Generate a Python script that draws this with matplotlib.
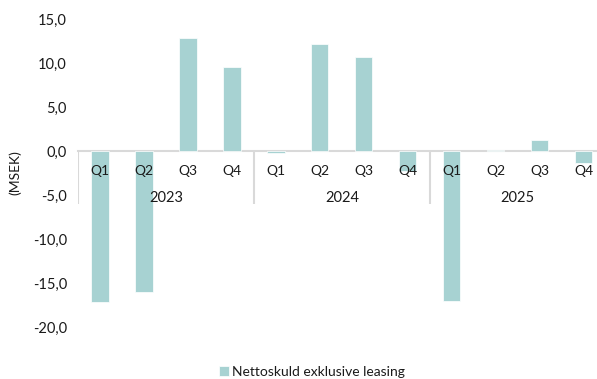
import numpy as np
import matplotlib
matplotlib.use("Agg")
import matplotlib.pyplot as plt

plt.rcParams['font.family'] = ['Lato', 'DejaVu Sans']

# nettoskuld per kvartal (MSEK)
years = ["2023", "2024", "2025"]
quarters = ["Q1", "Q2", "Q3", "Q4"]
values = [-17.2, -16.0, 12.8, 9.6,
          -0.2, 12.2, 10.7, -2.3,
          -17.1, 0.1, 1.3, -1.4]
series_name = "Nettoskuld exklusive leasing"

bar_color = "#a7d2d2"
line_color = "#d9d9d9"
text_color = "#1a1a1a"

w, h = 597, 379
DPI = 100
fig = plt.figure(figsize=(w / DPI, h / DPI), dpi=DPI)
ax = fig.add_axes([78 / w, 1 - 327 / h, 1 - 78 / w, (327 - 19) / h])

x = np.arange(len(values))
ax.bar(x, values, width=0.39, color=bar_color, edgecolor="white", linewidth=0.5,
       label=series_name, zorder=2)

ax.set_ylim(-20, 15)
ax.set_yticks(np.arange(-20, 16, 5))
ax.set_yticklabels([f"{v:.1f}".replace(".", ",") for v in np.arange(-20, 16, 5)])
ax.set_xlim(-0.5, 11.3)

for s in ["top", "right", "left"]:
    ax.spines[s].set_visible(False)
ax.spines["bottom"].set_position(("data", 0))
ax.spines["bottom"].set_color(line_color)
ax.spines["bottom"].set_linewidth(1.5)
ax.spines["bottom"].set_zorder(1)

ax.set_xticks(x)
ax.set_xticklabels(quarters * len(years))
ax.tick_params(axis="x", length=0, pad=10, labelsize=10, labelcolor=text_color)
ax.tick_params(axis="y", length=0, pad=8, labelsize=10.5, labelcolor=text_color)
ax.xaxis.set_zorder(3)

# årsgrupper under kvartalen
for i, yr in enumerate(years):
    ax.annotate(yr, xy=(4 * i + 1.5, 0), xytext=(0, -34), textcoords="offset points",
                ha="center", va="center", fontsize=10.5, color=text_color,
                annotation_clip=False, zorder=3)
ax.vlines([-0.5, 3.5, 7.5], -6.0, 0, colors=line_color, linewidth=1.5, zorder=1)

ax.set_ylabel("(MSEK)", fontsize=10, color=text_color, labelpad=8)

fig.legend(loc="center", bbox_to_anchor=(312 / w, 1 - 372 / h), frameon=False,
           handlelength=0.75, handleheight=0.75, handletextpad=0.2, fontsize=10,
           labelcolor=text_color)

fig.savefig("out.png", dpi=DPI)
